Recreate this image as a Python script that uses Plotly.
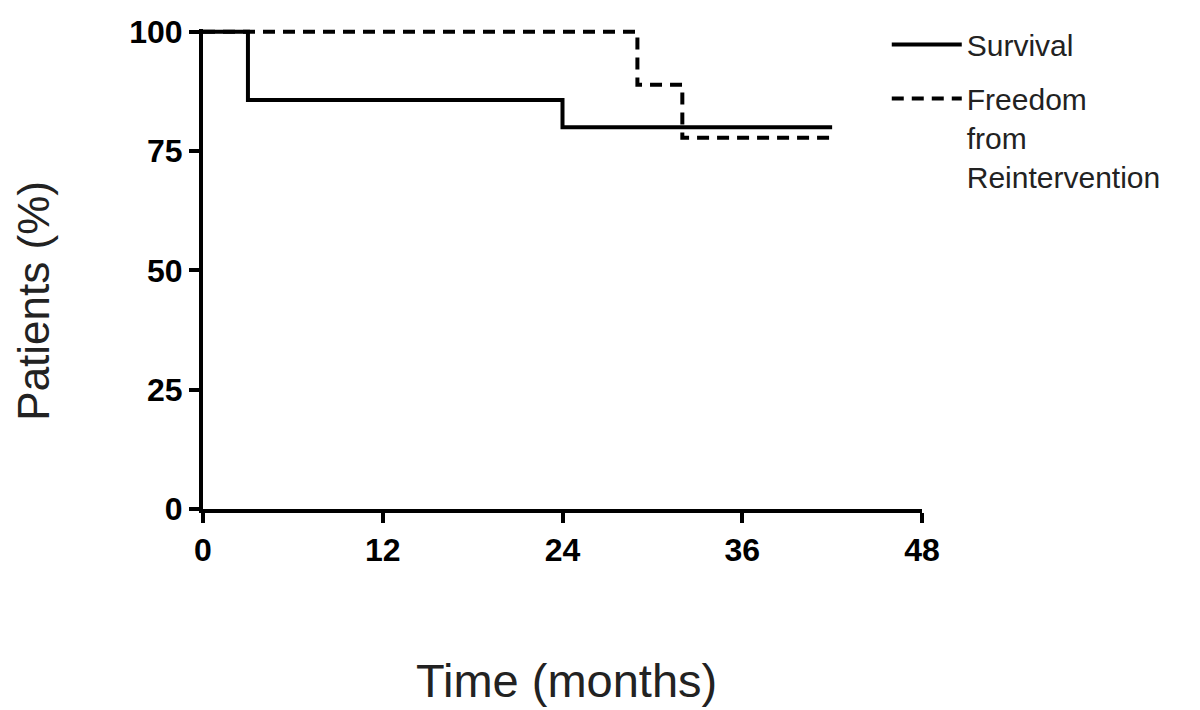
import plotly.graph_objects as go

# Kaplan-Meier style step curves (months, % of patients)
survival_months = [0, 3, 24, 42]
survival_pct = [100, 85.7, 80.0, 80.0]

freedom_months = [0, 29, 32, 42]
freedom_pct = [100, 88.9, 77.8, 77.8]

x_ticks = [0, 12, 24, 36, 48]
y_ticks = [0, 25, 50, 75, 100]

FONT = 'Liberation Sans, Arial, sans-serif'

fig = go.Figure()

fig.add_trace(go.Scatter(
    x=survival_months, y=survival_pct, mode='lines', line_shape='hv',
    name='Survival', legendgroup='s', line=dict(color='black', width=4)))

fig.add_trace(go.Scatter(
    x=freedom_months, y=freedom_pct, mode='lines', line_shape='hv',
    name='Freedom<br>from<br>Reintervention', legendgroup='f',
    line=dict(color='black', width=4, dash='12px,8px')))

# page body adds an 8px offset, margins account for it
fig.update_layout(
    width=1200, height=710,
    plot_bgcolor='white', paper_bgcolor='white',
    margin=dict(l=195, r=286, t=21, b=209, autoexpand=False),
    font=dict(family=FONT, color='#222'),
    legend=dict(x=0.951, y=1.022, xanchor='left', yanchor='top',
                font=dict(size=30, color='#222'), itemwidth=70,
                valign='top', tracegroupgap=12, bgcolor='rgba(0,0,0,0)'),
)

fig.update_xaxes(
    range=[0, 48], tickvals=x_ticks, showgrid=False, zeroline=False,
    showline=True, linecolor='black', linewidth=4, automargin=False,
    ticks='outside', ticklen=10, tickwidth=4, tickcolor='black',
    tickfont=dict(size=32, family=FONT, color='black', weight='bold'))

fig.update_yaxes(
    range=[0, 100.6], tickvals=y_ticks, showgrid=False, zeroline=False,
    showline=True, linecolor='black', linewidth=4, automargin=False,
    ticks='outside', ticklen=10, tickwidth=4, tickcolor='black',
    tickfont=dict(size=32, family=FONT, color='black', weight='bold'))

# axis titles
fig.add_annotation(text='Time (months)', xref='paper', yref='paper',
                   x=0.505, y=-0.358, xanchor='center', yanchor='middle',
                   showarrow=False, font=dict(size=47, color='#222'))
fig.add_annotation(text='Patients (%)', xref='paper', yref='paper',
                   x=-0.235, y=0.434, xanchor='center', yanchor='middle',
                   textangle=-90, showarrow=False, font=dict(size=44, color='#222'))

fig.write_html("out.html")
